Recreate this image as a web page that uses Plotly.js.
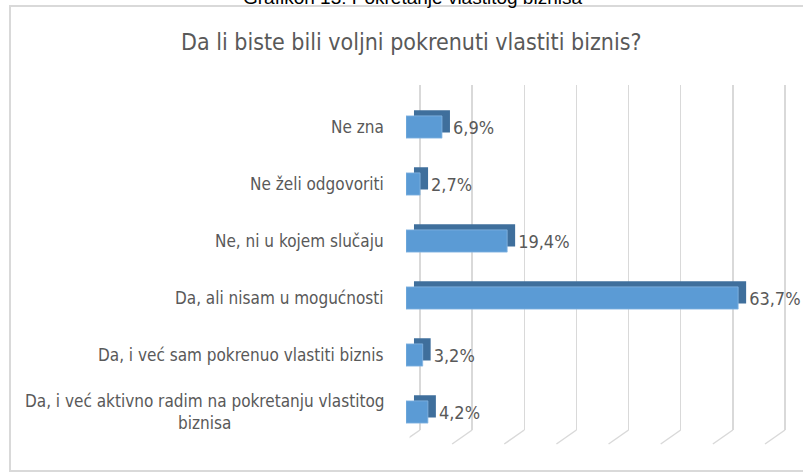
<!DOCTYPE html>
<html>
<head>
<meta charset="utf-8">
<script src="https://cdn.plot.ly/plotly-3.0.1.min.js"></script>
<style>html,body{margin:0;padding:0;background:#fff;}#chart{width:803px;height:474px;}</style>
</head>
<body>
<div id="chart"></div>
<script>
const categories = [
  "Ne zna",
  "Ne želi odgovoriti",
  "Ne, ni u kojem slučaju",
  "Da, ali nisam u mogućnosti",
  "Da, i već sam pokrenuo vlastiti biznis",
  "Da, i već aktivno radim na pokretanju vlastitog<br>biznisa"
];
const values = [6.9, 2.7, 19.4, 63.7, 3.2, 4.2];
const valueLabels = ["6,9%", "2,7%", "19,4%", "63,7%", "3,2%", "4,2%"];
const gridTicks = [0, 10, 20, 30, 40, 50, 60, 70];
const chartTitle = "Da li biste bili voljni pokrenuti vlastiti biznis?";
const captionTitle = "Grafikon 13: Pokretanje vlastitog biznisa";

const W = 803, H = 474;
const FONT = "'Liberation Sans Narrow', 'DejaVu Sans Condensed', 'Liberation Sans', sans-serif";
const GRAY = "#595959";
const depthX = 1.53;   // depth of 3D effect in value units
const barW = 0.39;
const depthY = 0.1;
const PX = 365 / 70;   // pixels per value unit

const traces = [
  // back wall subplot (gridlines only) drawn first so it sits behind the bars
  { type: "scatter", x: [], y: [], xaxis: "x", yaxis: "y", hoverinfo: "skip", showlegend: false },
  { // depth (top/side faces)
    type: "bar", orientation: "h", y: categories, x: values,
    base: values.map(() => depthX), width: barW, offset: -barW / 2 - depthY,
    marker: { color: "#3f6f9c", line: { width: 0 } },
    hoverinfo: "skip", xaxis: "x2", yaxis: "y2"
  },
  { // front face
    type: "bar", orientation: "h", y: categories, x: values,
    width: barW, offset: -barW / 2,
    marker: { color: "#5b9bd5", line: { color: "#86b6e2", width: 0.8 } },
    hoverinfo: "skip", xaxis: "x2", yaxis: "y2"
  },
  { // labels
    type: "bar", orientation: "h", y: categories, x: values,
    base: values.map(() => depthX), width: barW, offset: -barW / 2,
    marker: { color: "rgba(0,0,0,0)", line: { width: 0 } },
    text: valueLabels, textposition: "outside", constraintext: "none", cliponaxis: false,
    textfont: { family: FONT, size: 18, color: GRAY },
    hoverinfo: "skip", xaxis: "x2", yaxis: "y2"
  }
];

const annotations = categories.map(c => ({
  xref: "paper", yref: "y2", x: 386 / W, y: c, xanchor: "right", yanchor: "middle",
  text: c, showarrow: false, align: "center",
  font: { family: FONT, size: 17, color: GRAY }
}));
annotations.push({
  xref: "paper", yref: "paper", x: 411 / W, y: 1 - 42 / H, xanchor: "center", yanchor: "middle",
  text: chartTitle, showarrow: false, font: { family: FONT, size: 23, color: GRAY }
});
annotations.push({
  xref: "paper", yref: "paper", x: 412 / W, y: 1, xanchor: "center", yanchor: "middle", yshift: 3,
  text: captionTitle, showarrow: false, font: { family: "'Liberation Sans', sans-serif", size: 19, color: "#000" }
});

const shapes = [{
  type: "rect", xref: "paper", yref: "paper", x0: 10 / W, x1: 810 / W, y0: 1 - 6 / H, y1: 1 - 471 / H,
  line: { color: "#d9d9d9", width: 2 }, fillcolor: "rgba(0,0,0,0)", layer: "below"
}];
gridTicks.forEach(t => shapes.push({
  type: "line", xref: "x", yref: "paper", xsizemode: "pixel", xanchor: t, x0: 0, x1: -20,
  ysizemode: "pixel", yanchor: 1 - 430 / H, y0: 0, y1: -14,
  line: { color: "#d9d9d9", width: 1.5 }, layer: "below"
}));

const layout = {
  width: W, height: H,
  margin: { l: 0, r: 0, t: 0, b: 0 },
  paper_bgcolor: "#fff", plot_bgcolor: "rgba(0,0,0,0)",
  showlegend: false, barmode: "overlay",
  xaxis: { domain: [(420 - 2 * PX) / W, (420 + 72 * PX) / W], range: [-2, 72], tickvals: gridTicks,
           showgrid: true, gridcolor: "#d9d9d9", gridwidth: 1.5, zeroline: false,
           showticklabels: false, showline: false, ticks: "", anchor: "y" },
  yaxis: { domain: [1 - 430 / H, 1 - 85 / H], range: [0, 1], showgrid: false, zeroline: false,
           showticklabels: false, showline: false, ticks: "", anchor: "x" },
  xaxis2: { domain: [406 / W, 771 / W], range: [0, 70], showgrid: false, zeroline: false,
            showticklabels: false, showline: false, ticks: "", anchor: "y2" },
  yaxis2: { domain: [1 - 440.5 / H, 1 - 98.5 / H], type: "category", categoryorder: "array",
            categoryarray: categories, range: [5.5, -0.5], showgrid: false, zeroline: false,
            showticklabels: false, showline: false, ticks: "", anchor: "x2" },
  annotations: annotations,
  shapes: shapes
};

Plotly.newPlot("chart", traces, layout, { staticPlot: true, displayModeBar: false });
</script>
</body>
</html>
